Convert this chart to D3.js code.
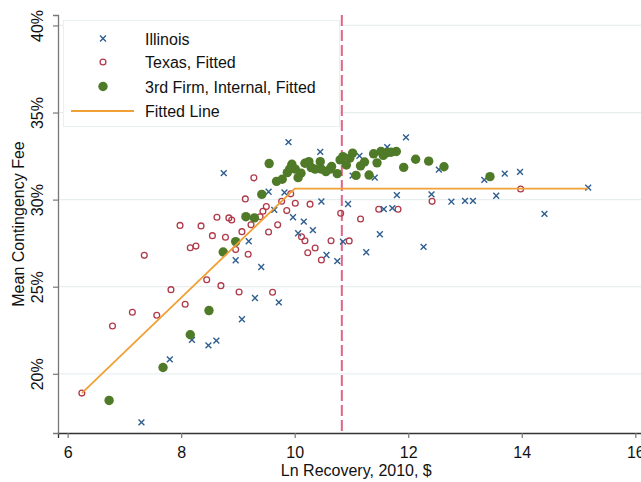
<!DOCTYPE html>
<html>
<head>
<meta charset="utf-8">
<script src="https://cdn.jsdelivr.net/npm/d3@7"></script>
<style>
  html, body { margin: 0; padding: 0; background: #fff; }
  svg text { font-family: "Liberation Sans", Arial, sans-serif; fill: #111; }
</style>
</head>
<body>
<div id="chart"></div>
<script>
const width = 641;
const height = 482;

// [ln recovery, mean fee %]
const illinois = [
  [7.30, 17.21], [7.80, 20.83], [8.19, 21.95], [8.48, 21.63], [8.62, 21.90],
  [9.07, 23.13], [9.30, 24.35], [9.72, 24.10], [8.96, 26.52], [9.41, 26.13],
  [10.56, 26.82], [10.75, 26.47], [8.75, 31.52], [9.89, 33.30], [10.45, 32.74],
  [9.54, 30.45], [9.82, 30.41], [9.64, 29.41], [9.97, 28.99], [10.16, 28.74],
  [10.32, 28.25], [10.06, 28.07], [10.47, 29.89], [9.19, 27.61], [10.85, 27.59],
  [10.94, 29.75], [11.96, 33.57], [11.63, 33.01], [11.14, 32.51], [11.02, 31.38],
  [11.41, 31.26], [11.80, 30.26], [11.57, 29.45], [11.72, 29.51], [12.41, 30.30],
  [12.76, 29.88], [13.00, 29.93], [13.14, 29.93], [13.55, 30.22], [12.54, 31.72],
  [13.34, 31.13], [11.50, 28.01], [12.27, 27.29], [11.26, 26.98], [13.70, 31.49],
  [13.97, 31.59], [15.17, 30.69], [14.40, 29.18]
];

const texas = [
  [6.25, 18.89], [6.79, 22.74], [7.14, 23.53], [7.57, 23.36], [7.35, 26.80],
  [7.82, 24.83], [8.07, 23.99], [7.98, 28.52], [8.35, 28.49], [8.55, 27.93],
  [8.16, 27.24], [8.26, 27.33], [8.45, 25.40], [8.63, 28.99], [8.84, 28.95],
  [8.89, 28.83], [8.78, 27.84], [8.96, 27.13], [8.70, 25.06], [9.02, 24.70],
  [9.61, 24.68], [9.18, 26.86], [10.23, 26.95], [10.47, 26.53], [9.28, 31.25],
  [9.13, 30.04], [9.07, 28.16], [9.23, 28.56], [9.39, 29.02], [9.44, 29.33],
  [9.50, 29.60], [9.54, 28.14], [9.70, 28.55], [9.77, 29.91], [9.86, 29.37],
  [9.93, 30.33], [10.01, 29.79], [10.27, 29.74], [10.12, 27.87], [10.18, 27.64],
  [10.36, 27.22], [10.64, 27.64], [10.81, 29.22], [10.96, 27.63], [11.16, 28.89],
  [11.48, 29.45], [11.82, 29.45], [12.42, 29.90], [13.98, 30.61]
];

const thirdFirm = [
  [6.73, 18.47], [7.68, 20.36], [8.16, 22.24], [8.49, 23.63], [8.74, 26.99],
  [8.96, 27.59], [9.14, 29.02], [9.29, 28.95], [9.42, 30.30], [9.55, 32.07],
  [9.68, 31.05], [9.78, 31.17], [9.87, 31.55], [9.95, 32.03], [10.01, 31.75],
  [10.06, 31.26], [10.11, 31.52], [10.18, 32.09], [10.25, 32.18], [10.29, 31.84],
  [10.36, 31.75], [10.45, 32.18], [10.47, 31.75], [10.55, 31.61], [10.65, 31.90],
  [10.75, 31.49], [10.80, 32.28], [10.85, 32.47], [10.91, 31.99], [10.97, 32.38],
  [11.02, 32.67], [11.08, 31.39], [11.16, 31.94], [11.23, 32.16], [11.31, 31.41],
  [11.39, 32.63], [11.45, 32.11], [11.52, 32.77], [11.56, 32.54], [11.63, 32.70],
  [11.79, 32.76], [11.92, 31.85], [12.13, 32.32], [12.36, 32.21], [12.63, 31.89],
  [13.44, 31.32], [11.70, 32.72], [9.91, 31.75], [10.62, 31.75]
];

const fittedLine = [[6.25, 18.89], [10.0, 30.63], [15.17, 30.63]];
const cutoff = 10.83;

const xTicks = [6, 8, 10, 12, 14, 16];
const yTicks = [20, 25, 30, 35, 40];

const legendItems = ["Illinois", "Texas, Fitted", "3rd Firm, Internal, Fitted", "Fitted Line"];

const colIll = "#2f5f8f";
const colTex = "#b03a4a";
const colGreen = "#4f7a28";
const colLine = "#f0a035";
const colCut = "#de6686";

const x = d3.scaleLinear().domain([5.83, 16.4]).range([58, 658]);
const y = d3.scaleLinear().domain([16.6, 40.6]).range([433, 15]);

const svg = d3.select("#chart").append("svg")
  .attr("width", width)
  .attr("height", height)
  .attr("viewBox", [0, 0, width, height]);

// grid lines
svg.append("g")
  .selectAll("line")
  .data(yTicks)
  .join("line")
  .attr("x1", x.range()[0])
  .attr("x2", x.range()[1])
  .attr("y1", d => y(d))
  .attr("y2", d => y(d))
  .attr("stroke", "#e6eff0")
  .attr("stroke-width", 1.2);

// legend box
const lg = svg.append("g");
lg.append("rect")
  .attr("x", 63.5).attr("y", 20.5)
  .attr("width", 276).attr("height", 106)
  .attr("fill", "#fff")
  .attr("stroke", "#e8f0f0");

// axes
const xAxis = svg.append("g")
  .attr("transform", `translate(0,${y.range()[0]})`)
  .call(d3.axisBottom(x).tickValues(xTicks).tickSize(5).tickPadding(9).tickFormat(d3.format("d")));
xAxis.select(".domain").attr("stroke", "#333").attr("stroke-width", 1.3);
xAxis.selectAll(".tick line").attr("stroke", "#777").attr("stroke-width", 1.2);
xAxis.selectAll(".tick text").attr("font-size", 16).attr("fill", "#111");

const yAxis = svg.append("g")
  .attr("transform", `translate(${x.range()[0]},0)`)
  .call(d3.axisLeft(y).tickValues(yTicks).tickSize(5).tickFormat(d => d + "%"));
yAxis.select(".domain").attr("stroke", "#777").attr("stroke-width", 1.3);
yAxis.selectAll(".tick line").attr("stroke", "#777").attr("stroke-width", 1.2);
yAxis.selectAll(".tick text")
  .attr("font-size", 16)
  .attr("fill", "#111")
  .attr("x", 0).attr("dy", 0)
  .attr("transform", "translate(-15,0) rotate(-90)")
  .attr("text-anchor", "middle");

// axis titles
svg.append("text")
  .attr("x", (x(6) + 641) / 2 + 2)
  .attr("y", 476)
  .attr("text-anchor", "middle")
  .attr("font-size", 16)
  .text("Ln Recovery, 2010, $");

svg.append("text")
  .attr("transform", `translate(24,${(y.range()[0] + y.range()[1]) / 2}) rotate(-90)`)
  .attr("text-anchor", "middle")
  .attr("font-size", 16)
  .text("Mean Contingency Fee");

// cutoff line
svg.append("line")
  .attr("x1", x(cutoff)).attr("x2", x(cutoff))
  .attr("y1", y.range()[1]).attr("y2", y.range()[0])
  .attr("stroke", colCut)
  .attr("stroke-width", 2)
  .attr("stroke-dasharray", "11,4");

// markers
const cross = d3.symbol().type(d3.symbolX).size(24);

svg.append("g")
  .selectAll("path")
  .data(texas)
  .join("circle")
  .attr("cx", d => x(d[0]))
  .attr("cy", d => y(d[1]))
  .attr("r", 2.9)
  .attr("fill", "none")
  .attr("stroke", colTex)
  .attr("stroke-width", 1.3);

svg.append("g")
  .selectAll("path")
  .data(illinois)
  .join("path")
  .attr("d", cross)
  .attr("transform", d => `translate(${x(d[0])},${y(d[1])})`)
  .attr("fill", "none")
  .attr("stroke", colIll)
  .attr("stroke-width", 1.4);

svg.append("g")
  .selectAll("circle")
  .data(thirdFirm)
  .join("circle")
  .attr("cx", d => x(d[0]))
  .attr("cy", d => y(d[1]))
  .attr("r", 4.7)
  .attr("fill", colGreen);

const line = d3.line().x(d => x(d[0])).y(d => y(d[1]));
svg.append("path")
  .datum(fittedLine)
  .attr("d", line)
  .attr("fill", "none")
  .attr("stroke", colLine)
  .attr("stroke-width", 1.8);

// legend entries
const rowY = [38.5, 62, 86.5, 111];
legendItems.forEach((name, i) => {
  lg.append("text")
    .attr("x", 145)
    .attr("y", rowY[i] + 6)
    .attr("font-size", 16)
    .text(name);
});
lg.append("path").attr("d", cross)
  .attr("transform", `translate(103,${rowY[0]})`)
  .attr("fill", "none").attr("stroke", colIll).attr("stroke-width", 1.4);
lg.append("circle").attr("cx", 103).attr("cy", rowY[1]).attr("r", 2.9)
  .attr("fill", "none").attr("stroke", colTex).attr("stroke-width", 1.3);
lg.append("circle").attr("cx", 103).attr("cy", rowY[2]).attr("r", 4.7)
  .attr("fill", colGreen);
lg.append("line").attr("x1", 71).attr("x2", 134)
  .attr("y1", rowY[3]).attr("y2", rowY[3])
  .attr("stroke", colLine).attr("stroke-width", 1.8);
</script>
</body>
</html>
